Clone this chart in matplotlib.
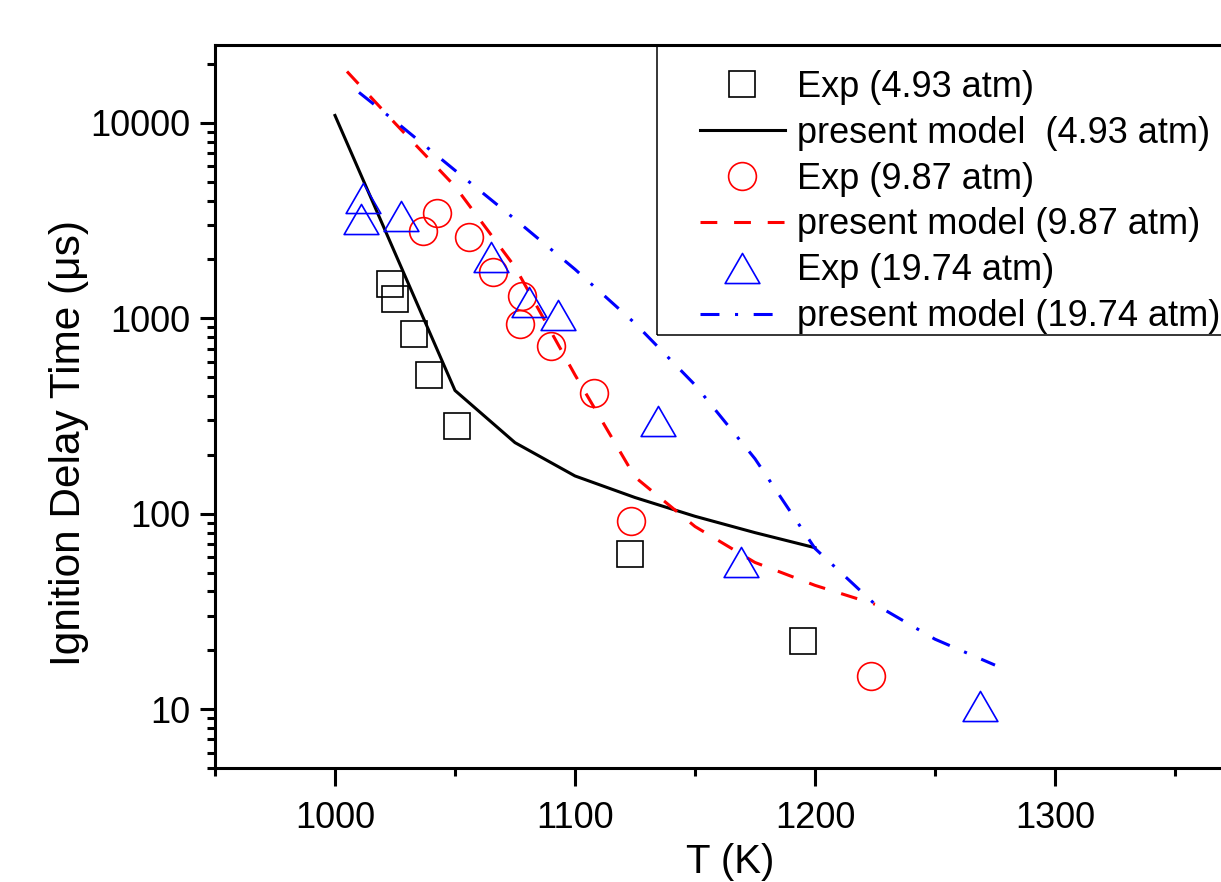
import matplotlib
matplotlib.use('Agg')
import matplotlib.pyplot as plt
from matplotlib.path import Path
from matplotlib.patches import Rectangle
from matplotlib.ticker import FixedLocator, MultipleLocator, LogLocator, NullFormatter

plt.rcParams['font.family'] = ['Liberation Sans', 'DejaVu Sans']

# experimental ignition delay data (T in K, tau in microseconds)
exp_493_T = [1023, 1025, 1033, 1039, 1051, 1123, 1195]
exp_493_tau = [1500, 1250, 830, 515, 282, 62, 22.3]

exp_987_T = [1036.6, 1042.5, 1056, 1066, 1077, 1078, 1090, 1108, 1123.4, 1223.5]
exp_987_tau = [2800, 3475, 2600, 1715, 935, 1300, 725, 415, 92, 14.8]

exp_1974_T = [1010.7, 1011.5, 1027.3, 1064.8, 1080.8, 1093, 1134.6, 1169, 1268.9]
exp_1974_tau = [3220, 4120, 3335, 2050, 1210, 1040, 298, 56.4, 10.4]

# model predictions
model_493_T = [1000, 1050, 1075, 1100, 1125, 1150, 1175, 1200]
model_493_tau = [10900, 427, 231, 156, 121, 97, 80, 67]

model_987_T = [1005, 1025, 1050, 1075, 1100, 1125, 1150, 1175, 1200, 1225]
model_987_tau = [18300, 9950, 4730, 1830, 513, 154, 86, 56.3, 43, 34.4]

model_1974_T = [1010, 1025, 1050, 1075, 1100, 1125, 1150, 1175, 1200, 1225, 1250, 1275]
model_1974_tau = [14300, 10200, 5710, 3210, 1780, 942, 456, 191, 66.4, 34.4, 22.8, 16.8]

x_ticks = [1000, 1100, 1200, 1300]
y_ticks = [10, 100, 1000, 10000]
y_ticklabels = ['10', '100', '1000', '10000']

W, H = 1221, 882
fig = plt.figure(figsize=(W / 100, H / 100), dpi=100)
ax = fig.add_axes([215 / W, (H - 768) / H, 1080 / W, 723 / H])

# equilateral open triangle like the original
tri = Path([(0, 0.866), (-1, -0.866), (1, -0.866), (0, 0.866)],
           [Path.MOVETO, Path.LINETO, Path.LINETO, Path.CLOSEPOLY])

lw = 2.2
h1, = ax.plot(exp_493_T, exp_493_tau, ls='none', marker='s', ms=18.5,
              mfc='none', mec='black', mew=1.2)
h2, = ax.plot(model_493_T, model_493_tau, color='black', lw=lw)
h3, = ax.plot(exp_987_T, exp_987_tau, ls='none', marker='o', ms=20,
              mfc='none', mec='red', mew=1.2)
h4, = ax.plot(model_987_T, model_987_tau, color='red', lw=lw,
              ls=(0, (5.5, 5.5)))
h5, = ax.plot(exp_1974_T, exp_1974_tau, ls='none', marker=tri, ms=25,
              mfc='none', mec='blue', mew=1.2)
h6, = ax.plot(model_1974_T, model_1974_tau, color='blue', lw=lw,
              ls=(0, (6.2, 5.1, 1.0, 5.1)))

ax.set_xlim(950, 1400)
ax.set_yscale('log')
ax.set_ylim(5, 25000)

ax.xaxis.set_major_locator(FixedLocator(x_ticks))
ax.xaxis.set_minor_locator(MultipleLocator(50))
ax.set_yticks(y_ticks)
ax.set_yticklabels(y_ticklabels)
ax.yaxis.set_minor_locator(LogLocator(base=10, subs=range(2, 10), numticks=20))
ax.yaxis.set_minor_formatter(NullFormatter())

for s in ax.spines.values():
    s.set_linewidth(lw)
ax.tick_params(axis='both', which='both', direction='out', width=lw,
               top=False, right=False, labelsize=26)
ax.tick_params(axis='x', which='major', length=13, pad=11)
ax.tick_params(axis='x', which='minor', length=6)
ax.tick_params(axis='y', which='major', length=11, pad=7)
ax.tick_params(axis='y', which='minor', length=6)

fig.text(730 / W, 9 / H, 'T (K)', ha='center', va='baseline', fontsize=29)
fig.text(69 / W, 1 - 442.5 / H, 'Ignition Delay Time (\u03bcs)', rotation=90,
         ha='center', va='center', fontsize=30.5)

# legend box drawn by hand, it runs off the right edge like the original
box = Rectangle((657 / W, (H - 335) / H), (1300 - 657) / W, (335 - 46) / H,
                transform=fig.transFigure, facecolor='none', edgecolor='black',
                lw=1.1, zorder=5)
fig.add_artist(box)

ax.legend([h1, h2, h3, h4, h5, h6],
          ['Exp (4.93 atm)', 'present model  (4.93 atm)', 'Exp (9.87 atm)',
           'present model (9.87 atm)', 'Exp (19.74 atm)', 'present model (19.74 atm)'],
          loc='upper left', bbox_to_anchor=(700 / W, 1 - 70 / H),
          bbox_transform=fig.transFigure, frameon=False, borderpad=0,
          borderaxespad=0, handlelength=2.35, handletextpad=0.33,
          labelspacing=0.30, fontsize=26, numpoints=1)

fig.savefig('out.png', dpi=100)
